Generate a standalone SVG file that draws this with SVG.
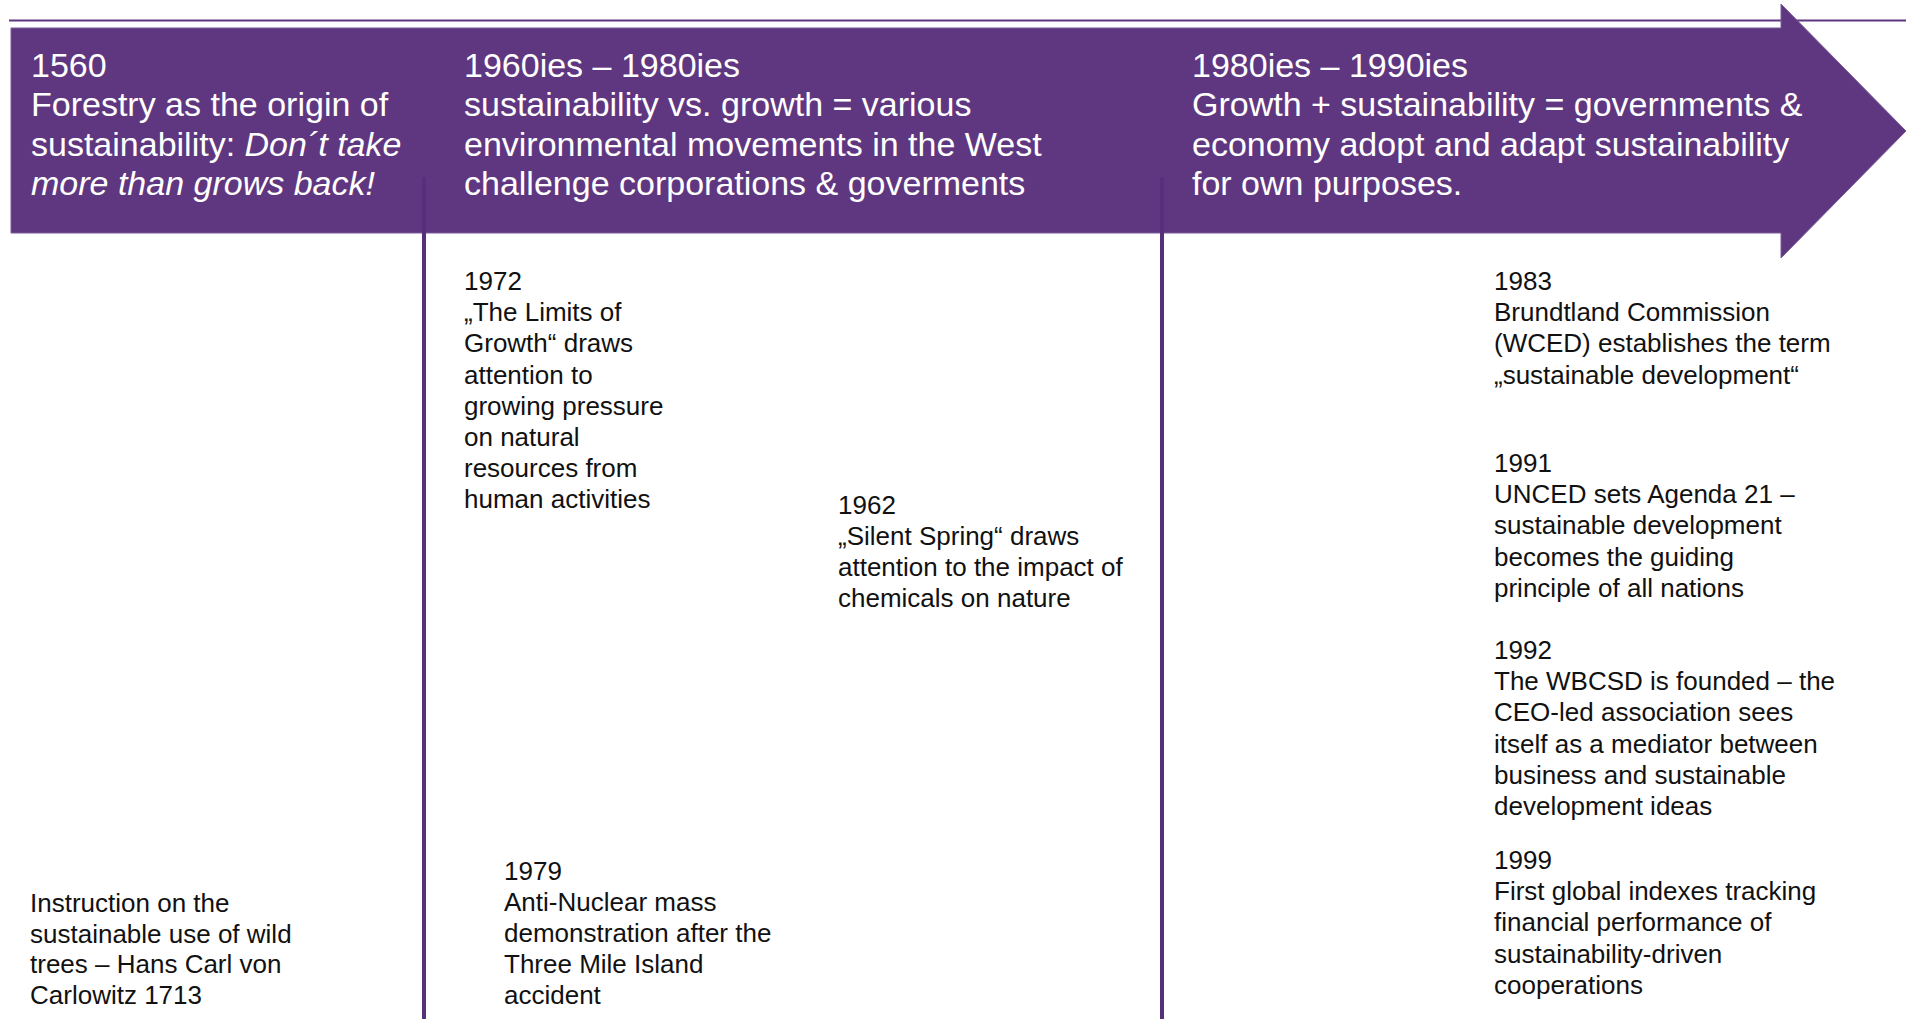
<svg xmlns="http://www.w3.org/2000/svg" width="1906" height="1019" viewBox="0 0 1906 1019">
  <style>
    .head { font-family: "Liberation Sans", Arial, sans-serif; font-size: 34px; fill: #ffffff; }
    .body { font-family: "Liberation Sans", Arial, sans-serif; font-size: 26px; fill: #111111; }
    .it { font-style: italic; }
    .axis { stroke: #5f3780; stroke-width: 2; fill: none; }
    .divider { stroke: #56307a; stroke-width: 4; fill: none; }
  </style>

  <!-- timeline axis and banner arrow -->
  <g id="timeline">
    <line class="axis" x1="9" y1="20.5" x2="1906" y2="20.5"/>
    <path id="banner" d="M11,28 H1781 V4 L1906,131 L1781,258 V233 H11 Z" fill="#5f3780" stroke="#7a5a98" stroke-width="1"/>
  </g>

  <!-- era dividers -->
  <g id="connectors">
    <line class="divider" x1="424" y1="177" x2="424" y2="1019"/>
    <line class="divider" x1="1162" y1="177" x2="1162" y2="1019"/>
  </g>

  <!-- era headings -->
  <g id="era-1560">
    <text class="head" x="31" y="77">1560</text>
    <text class="head" x="31" y="116">Forestry as the origin of</text>
    <text class="head" x="31" y="155.5">sustainability: <tspan class="it">Don´t take</tspan></text>
    <text class="head it" x="31" y="195">more than grows back!</text>
  </g>

  <g id="era-1960-1980">
    <text class="head" x="464" y="77">1960ies – 1980ies</text>
    <text class="head" x="464" y="116">sustainability vs. growth = various</text>
    <text class="head" x="464" y="155.5">environmental movements in the West</text>
    <text class="head" x="464" y="195">challenge corporations &amp; goverments</text>
  </g>

  <g id="era-1980-1990">
    <text class="head" x="1192" y="77">1980ies – 1990ies</text>
    <text class="head" x="1192" y="116">Growth + sustainability = governments &amp;</text>
    <text class="head" x="1192" y="155.5">economy adopt and adapt sustainability</text>
    <text class="head" x="1192" y="195">for own purposes.</text>
  </g>

  <!-- events -->
  <g id="event-1713">
    <text class="body" x="30" y="912">Instruction on the</text>
    <text class="body" x="30" y="943">sustainable use of wild</text>
    <text class="body" x="30" y="973">trees – Hans Carl von</text>
    <text class="body" x="30" y="1004">Carlowitz 1713</text>
  </g>

  <g id="event-1972">
    <text class="body" x="464" y="290">1972</text>
    <text class="body" x="464" y="321">„The Limits of</text>
    <text class="body" x="464" y="352">Growth“ draws</text>
    <text class="body" x="464" y="384">attention to</text>
    <text class="body" x="464" y="415">growing pressure</text>
    <text class="body" x="464" y="446">on natural</text>
    <text class="body" x="464" y="477">resources from</text>
    <text class="body" x="464" y="508">human activities</text>
  </g>

  <g id="event-1962">
    <text class="body" x="838" y="514">1962</text>
    <text class="body" x="838" y="545">„Silent Spring“ draws</text>
    <text class="body" x="838" y="576">attention to the impact of</text>
    <text class="body" x="838" y="607">chemicals on nature</text>
  </g>

  <g id="event-1979">
    <text class="body" x="504" y="880">1979</text>
    <text class="body" x="504" y="911">Anti-Nuclear mass</text>
    <text class="body" x="504" y="942">demonstration after the</text>
    <text class="body" x="504" y="973">Three Mile Island</text>
    <text class="body" x="504" y="1004">accident</text>
  </g>

  <g id="event-1983">
    <text class="body" x="1494" y="290">1983</text>
    <text class="body" x="1494" y="321">Brundtland Commission</text>
    <text class="body" x="1494" y="352">(WCED) establishes the term</text>
    <text class="body" x="1494" y="384">„sustainable development“</text>
  </g>

  <g id="event-1991">
    <text class="body" x="1494" y="472">1991</text>
    <text class="body" x="1494" y="503">UNCED sets Agenda 21 –</text>
    <text class="body" x="1494" y="534">sustainable development</text>
    <text class="body" x="1494" y="566">becomes the guiding</text>
    <text class="body" x="1494" y="597">principle of all nations</text>
  </g>

  <g id="event-1992">
    <text class="body" x="1494" y="659">1992</text>
    <text class="body" x="1494" y="690">The WBCSD is founded – the</text>
    <text class="body" x="1494" y="721">CEO-led association sees</text>
    <text class="body" x="1494" y="753">itself as a mediator between</text>
    <text class="body" x="1494" y="784">business and sustainable</text>
    <text class="body" x="1494" y="815">development ideas</text>
  </g>

  <g id="event-1999">
    <text class="body" x="1494" y="869">1999</text>
    <text class="body" x="1494" y="900">First global indexes tracking</text>
    <text class="body" x="1494" y="931">financial performance of</text>
    <text class="body" x="1494" y="963">sustainability-driven</text>
    <text class="body" x="1494" y="994">cooperations</text>
  </g>
</svg>
